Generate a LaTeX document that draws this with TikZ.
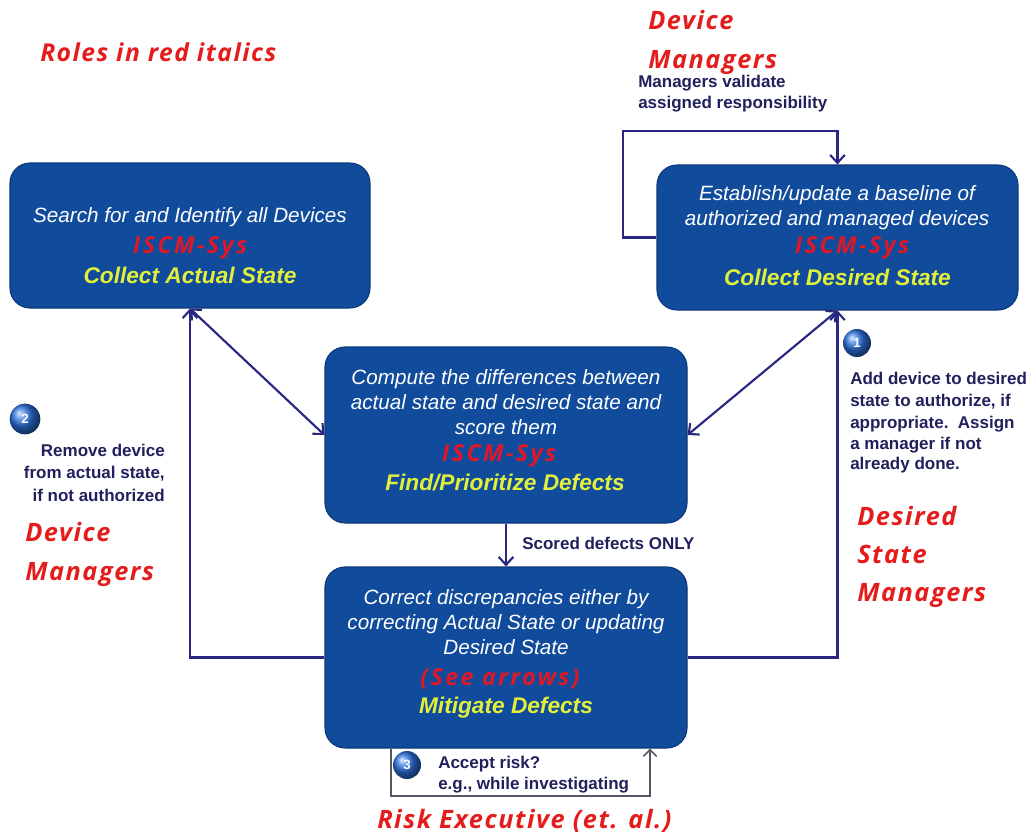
\documentclass[tikz,border=0pt]{standalone}
\usepackage{fontspec}
\setmainfont{Liberation Sans}
\newfontfamily\rolefam[LetterSpace=6]{Open Sans}
\newfontfamily\sysfam[LetterSpace=10]{Open Sans}
\usetikzlibrary{arrows.meta}
\definecolor{boxblue}{RGB}{17,75,155}
\definecolor{boxedge}{RGB}{12,55,120}
\definecolor{arrowc}{RGB}{40,40,130}
\definecolor{navytext}{RGB}{32,32,92}
\definecolor{rolered}{RGB}{228,28,28}
\definecolor{sysred}{RGB}{222,24,40}
\definecolor{yel}{RGB}{226,240,60}
\definecolor{riskc}{RGB}{85,88,100}
\newcommand\myW{\fontsize{15.5}{18}\selectfont\itshape}
\newcommand\myY{\fontsize{17}{20}\selectfont\bfseries\itshape}
\newcommand\myS{\sysfam\fontsize{17.5}{20}\selectfont\bfseries\itshape}
\newcommand\myR{\rolefam\fontsize{19}{22}\selectfont\bfseries\itshape}
\newcommand\myN{\fontsize{12.75}{15}\selectfont\bfseries}
\begin{document}
\begin{tikzpicture}[x=0.75pt,y=-0.75pt,
  procbox/.style={draw=boxedge, line width=0.8pt, fill=boxblue, rounded corners=15pt, inner sep=0pt},
  wtxt/.style={text=white, font=\myW, anchor=base, inner sep=0pt},
  stxt/.style={text=sysred, font=\myS, anchor=base, inner sep=0pt},
  ytxt/.style={text=yel, font=\myY, anchor=base, inner sep=0pt},
  role/.style={text=rolered, font=\myR, anchor=base west, inner sep=0pt},
  note/.style={text=navytext, font=\myN, anchor=base west, inner sep=0pt},
  noter/.style={note, anchor=base east},
  arr/.style={draw=arrowc, line width=1.6pt, -{Straight Barb[length=6pt,width=11pt]}},
  dbl/.style={draw=arrowc, line width=1.6pt, {Straight Barb[length=6pt,width=11pt]}-{Straight Barb[length=6pt,width=11pt]}},
  riskarr/.style={draw=riskc, line width=1.2pt, -{Straight Barb[length=5pt,width=10pt]}},
  ball/.style={circle, shading=ball, ball color={rgb,255:red,45;green,115;blue,225}, text=white, font=\fontsize{10}{12}\selectfont\bfseries, inner sep=0pt, minimum size=21pt}
]
\useasboundingbox (0,0) rectangle (1026,835);

% boxes
\node[procbox, minimum width=270pt, minimum height=108.75pt] (A) at (190,235.5) {};
\node[procbox, minimum width=270.75pt, minimum height=108.75pt] (B) at (837.5,237.5) {};
\node[procbox, minimum width=271.5pt, minimum height=132pt] (C) at (506,435) {};
\node[procbox, minimum width=271.5pt, minimum height=135.75pt] (D) at (506,657.5) {};

% box A text
\node[wtxt] (a1) at (190,222.5) {Search for and Identify all Devices};
\node[stxt] (a2) at (190,253) {ISCM-Sys};
\node[ytxt] (a3) at (190,283) {Collect Actual State};
% box B text
\node[wtxt] (b1) at (837,200.5) {Establish/update a baseline of};
\node[wtxt] (b2) at (837,225.5) {authorized and managed devices};
\node[stxt] (b3) at (852,253) {ISCM-Sys};
\node[ytxt] (b4) at (837.5,285) {Collect Desired State};
% box C text
\node[wtxt] (c1) at (506,384.5) {Compute the differences between};
\node[wtxt] (c2) at (506,409.5) {actual state and desired state and};
\node[wtxt] (c3) at (506,434.5) {score them};
\node[stxt] (c4) at (499,461) {ISCM-Sys};
\node[ytxt] (c5) at (505,490) {Find/Prioritize Defects};
% box D text
\node[wtxt] (d1) at (506,604.5) {Correct discrepancies either by};
\node[wtxt] (d2) at (506,629.5) {correcting Actual State or updating};
\node[wtxt] (d3) at (506,654.5) {Desired State};
\node[stxt] (d4) at (500,685) {(See arrows)};
\node[ytxt] (d5) at (506,713) {Mitigate Defects};

% connectors
\coordinate (loopTL) at (623,131);
\coordinate (riskL) at (391,796);
\coordinate (riskR) at (650,796);
\draw[dbl] (A.south) -- (C.west);
\draw[dbl] (B.south) -- (C.east);
\draw[arr] (D.west) -| (A.south);
\draw[arr] (D.east) -| (B.south);
\draw[arr] (C.south) -- (D.north);
\draw[arr] (B.west) -| (loopTL) -| (B.north);
\draw[riskarr] (D.south -| riskL) -- (riskL) -- (riskR) -- (D.south -| riskR);

% numbered balls
\node[ball] (n1) at (857,343) {1};
\node[ball, minimum size=23pt] (n2) at (25,419) {2};
\node[ball] (n3) at (407,765) {3};

% notes
\node[note] (m1) at (638,87) {Managers validate};
\node[note] (m2) at (638,108) {assigned responsibility};
\node[note] (r1) at (850,384) {Add device to desired};
\node[note] (r2) at (850,406) {state to authorize, if};
\node[note] (r3) at (850,428) {appropriate.\ \ Assign};
\node[note] (r4) at (850,449) {a manager if not};
\node[note] (r5) at (850,469) {already done.};
\node[note] (sc) at (522,549) {Scored defects ONLY};
\node[note] (k1) at (438,768) {Accept risk?};
\node[note] (k2) at (438,789) {e.g., while investigating};
\node[noter] (l1) at (165,456) {Remove device};
\node[noter] (l2) at (165,478) {from actual state,};
\node[noter] (l3) at (165,501) {if not authorized};

% roles
\node[role, font=\rolefam\fontsize{18.5}{22}\selectfont\bfseries\itshape] (roles) at (40,61) {Roles in red italics};
\node[role] (t1) at (648,30) {Device};
\node[role] (t2) at (648,68) {Managers};
\node[role] (s1) at (857,525) {Desired};
\node[role] (s2) at (857,563) {State};
\node[role] (s3) at (857,601) {Managers};
\node[role] (v1) at (25,541) {Device};
\node[role] (v2) at (25,580) {Managers};
\node[role] (re) at (377,828) {Risk Executive (et. al.)};
\end{tikzpicture}
\end{document}
